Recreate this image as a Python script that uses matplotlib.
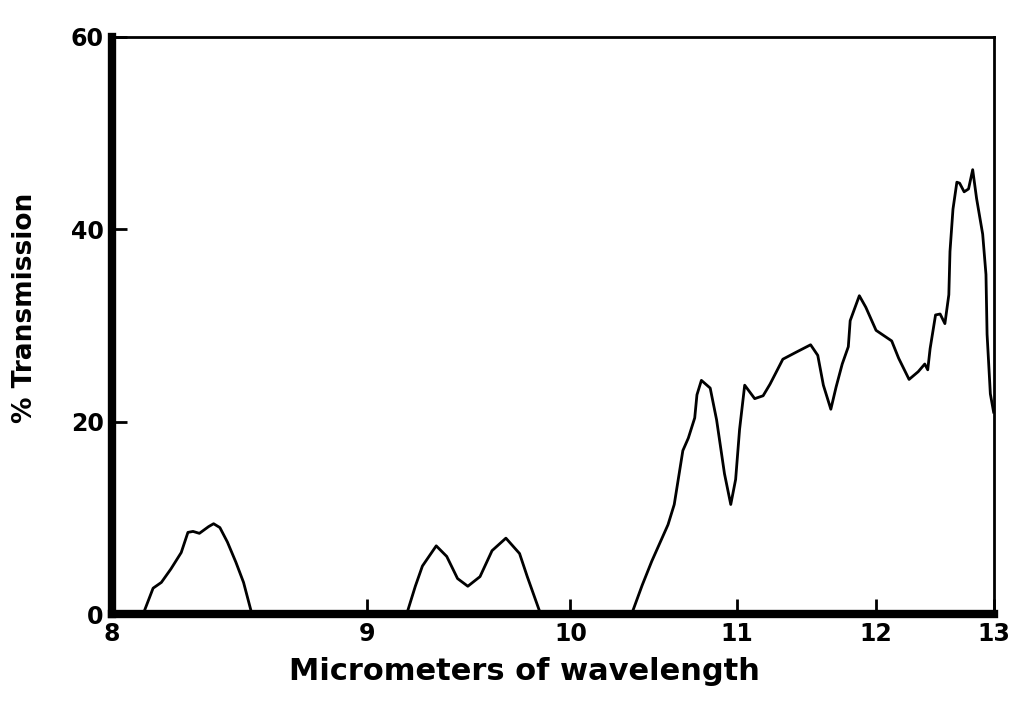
import numpy as np
import matplotlib
matplotlib.use("Agg")
import matplotlib.pyplot as plt

# wavelength (micrometers) and % transmission
wavelength = [8.00, 8.11, 8.146, 8.176, 8.211, 8.249, 8.274, 8.293, 8.317, 8.352, 8.371, 8.395, 8.424, 8.457, 8.487, 8.52,
              9.18, 9.22, 9.253, 9.318, 9.368, 9.42, 9.47, 9.53, 9.59, 9.66, 9.73, 9.77, 9.84,
              10.345, 10.407, 10.464, 10.562, 10.60, 10.653, 10.687, 10.727, 10.741, 10.769,
              10.825, 10.866, 10.917, 10.958, 10.99, 11.016, 11.05, 11.117, 11.174, 11.221,
              11.262, 11.31, 11.40, 11.507, 11.559, 11.60, 11.655, 11.694, 11.74, 11.786,
              11.80, 11.87, 11.92, 12.0, 12.124, 12.18, 12.265, 12.34, 12.395, 12.42,
              12.44, 12.486, 12.525, 12.566, 12.6, 12.61, 12.636, 12.67, 12.694, 12.734,
              12.773, 12.81, 12.845, 12.90, 12.93, 12.94, 12.97, 13.0]
transmission = [0, 0, 2.7, 3.3, 4.7, 6.4, 8.5, 8.6, 8.4, 9.1, 9.4, 9.0, 7.5, 5.4, 3.3, 0,
                0, 2.9, 5.0, 7.1, 6.0, 3.7, 2.9, 3.9, 6.6, 7.9, 6.3, 3.9, 0,
                0, 3.0, 5.5, 9.3, 11.4, 17.0, 18.3, 20.4, 22.8, 24.3,
                23.5, 20.2, 14.6, 11.4, 14.0, 19.2, 23.8, 22.4, 22.7, 23.9,
                25.1, 26.5, 27.2, 28.0, 26.9, 23.8, 21.3, 23.6, 26.0, 27.8,
                30.5, 33.1, 31.9, 29.5, 28.4, 26.6, 24.4, 25.2, 26.0, 25.4,
                27.6, 31.1, 31.2, 30.2, 33.2, 37.7, 42.1, 44.9, 44.8, 43.9,
                44.2, 46.2, 43.2, 39.5, 35.3, 29.1, 22.9, 21.0]

x_ticks = [8, 9, 10, 11, 12, 13]
y_ticks = [0, 20, 40, 60]

fig = plt.figure(figsize=(10.11, 7.10), dpi=100)
ax = fig.add_axes([0.1108, 0.135, 0.872, 0.813])

ax.plot(wavelength, transmission, color='black', lw=2.0, solid_joinstyle='round')

# the x axis is linear in wavenumber (1/lambda)
with np.errstate(divide='ignore'):
    ax.set_xscale('function', functions=(lambda x: -1.0 / x, lambda y: -1.0 / y))
ax.set_xlim(8, 13)
ax.set_ylim(0, 60)
ax.set_xticks(x_ticks)
ax.set_xticklabels([str(t) for t in x_ticks])
ax.set_yticks(y_ticks)
ax.minorticks_off()

for side in ['left', 'bottom']:
    ax.spines[side].set_linewidth(6)
for side in ['top', 'right']:
    ax.spines[side].set_linewidth(2)

ax.tick_params(direction='in', length=11, width=2, labelsize=17, pad=6)
for lab in ax.get_xticklabels() + ax.get_yticklabels():
    lab.set_fontweight('bold')

ax.set_xlabel('Micrometers of wavelength', fontsize=22, fontweight='bold')
ax.xaxis.set_label_coords(0.468, -0.075)
ax.set_ylabel('% Transmission', fontsize=19, fontweight='bold')
ax.yaxis.set_label_coords(-0.084, 0.53)

plt.savefig('out.png', dpi=100)
